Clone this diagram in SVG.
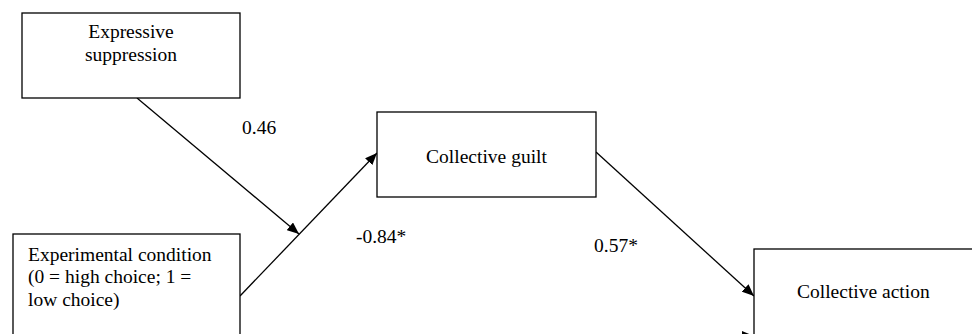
<svg xmlns="http://www.w3.org/2000/svg" width="972" height="334" viewBox="0 0 972 334">
<style>
.box{fill:#fff;stroke:#000;stroke-width:1.3}
text{font-family:'Liberation Serif','Times New Roman','DejaVu Serif',serif;font-size:19.5px;fill:#000}
.c{text-anchor:middle}
.ln{stroke:#000;stroke-width:1.3;fill:none;marker-end:url(#ah)}
</style>
<defs>
<marker id="ah" markerUnits="userSpaceOnUse" markerWidth="12" markerHeight="10" refX="12" refY="5" orient="auto">
<path d="M0,0 L12,5 L0,10 z" fill="#000"/>
</marker>
</defs>
<rect width="972" height="334" fill="#fff"/>
<g id="connectors">
<line class="ln" x1="137" y1="98" x2="299" y2="234"/>
<line class="ln" x1="240" y1="296" x2="377" y2="153"/>
<line class="ln" x1="596" y1="152" x2="754" y2="296"/>
<line class="ln" x1="240" y1="336" x2="754" y2="336"/>
</g>
<g id="expressive-suppression">
<rect class="box" x="22" y="13" width="218" height="85"/>
<text class="c" x="131" y="38" font-family="Liberation Serif, serif">Expressive</text>
<text class="c" x="131" y="61" font-family="Liberation Serif, serif">suppression</text>
</g>
<g id="experimental-condition">
<rect class="box" x="13" y="234" width="227" height="120"/>
<text x="28" y="261" font-family="Liberation Serif, serif">Experimental condition</text>
<text x="28" y="283" font-family="Liberation Serif, serif">(0 = high choice; 1 =</text>
<text x="28" y="306" font-family="Liberation Serif, serif">low choice)</text>
</g>
<g id="collective-guilt">
<rect class="box" x="377" y="112" width="219" height="85"/>
<text class="c" x="486.5" y="163" font-family="Liberation Serif, serif">Collective guilt</text>
</g>
<g id="collective-action">
<rect class="box" x="754" y="249" width="230" height="110"/>
<text x="797" y="298" font-family="Liberation Serif, serif">Collective action</text>
</g>
<g id="labels">
<text x="242" y="134" font-family="Liberation Serif, serif">0.46</text>
<text x="356" y="243" font-family="Liberation Serif, serif">-0.84*</text>
<text x="594" y="252" font-family="Liberation Serif, serif">0.57*</text>
</g>
</svg>
